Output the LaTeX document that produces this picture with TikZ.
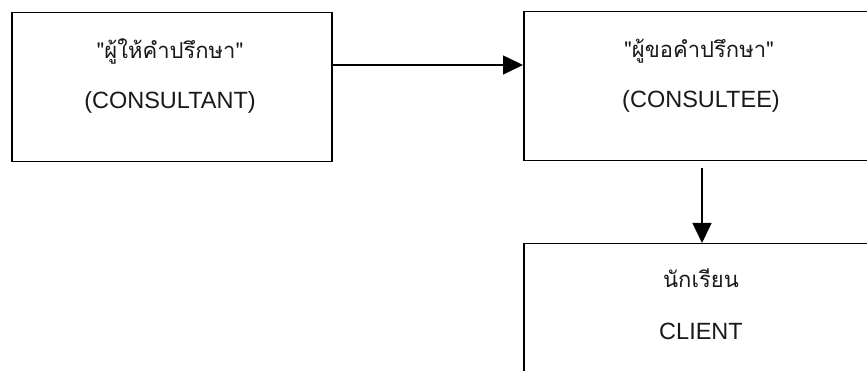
\documentclass[tikz,border=0pt]{standalone}
\usepackage{fontspec}
\setmainfont{Liberation Sans}
\newfontfamily\thaifont[Script=Thai]{Loma}
\usetikzlibrary{arrows.meta}
\tikzset{
  boxnode/.style={draw=black, line width=1.5pt, inner sep=0pt, fill=none},
  thaitext/.style={anchor=base, inner sep=0pt, text=black!90, font=\thaifont\fontsize{22}{26}\selectfont},
  lattext/.style={anchor=base, inner sep=0pt, text=black!90, font=\fontsize{23.5}{28}\selectfont},
  arr/.style={line width=1.5pt, -{Triangle[length=20pt,width=19pt]}}
}
\begin{document}
\begin{tikzpicture}[x=1pt,y=1pt]
\useasboundingbox (0,0) rectangle (867,371);
\clip (0,0) rectangle (867,371);
\node[boxnode, minimum width=320pt, minimum height=149pt, anchor=north west] (A) at (11,359) {};
\node[boxnode, minimum width=357pt, minimum height=149pt, anchor=north west] (B) at (523,360) {};
\node[boxnode, minimum width=357pt, minimum height=160pt, anchor=north west] (C) at (523,128) {};
\node[thaitext] (a1) at (170,312) {"ผู้ให้คำปรึกษา"};
\node[lattext] (a2) at (170,262) {(CONSULTANT)};
\node[thaitext] (b1) at (699,313) {"ผู้ขอคำปรึกษา"};
\node[lattext] (b2) at (701,263) {(CONSULTEE)};
\node[thaitext] (c1) at (701,83) {นักเรียน};
\node[lattext] (c2) at (701,31) {CLIENT};
\draw[arr] ([yshift=-53pt]A.north east) -- ([yshift=-53pt]A.north east -| B.west);
\draw[arr] ([xshift=179pt,yshift=-7pt]B.south west) -- ([xshift=179pt]C.north west);
\end{tikzpicture}
\end{document}
